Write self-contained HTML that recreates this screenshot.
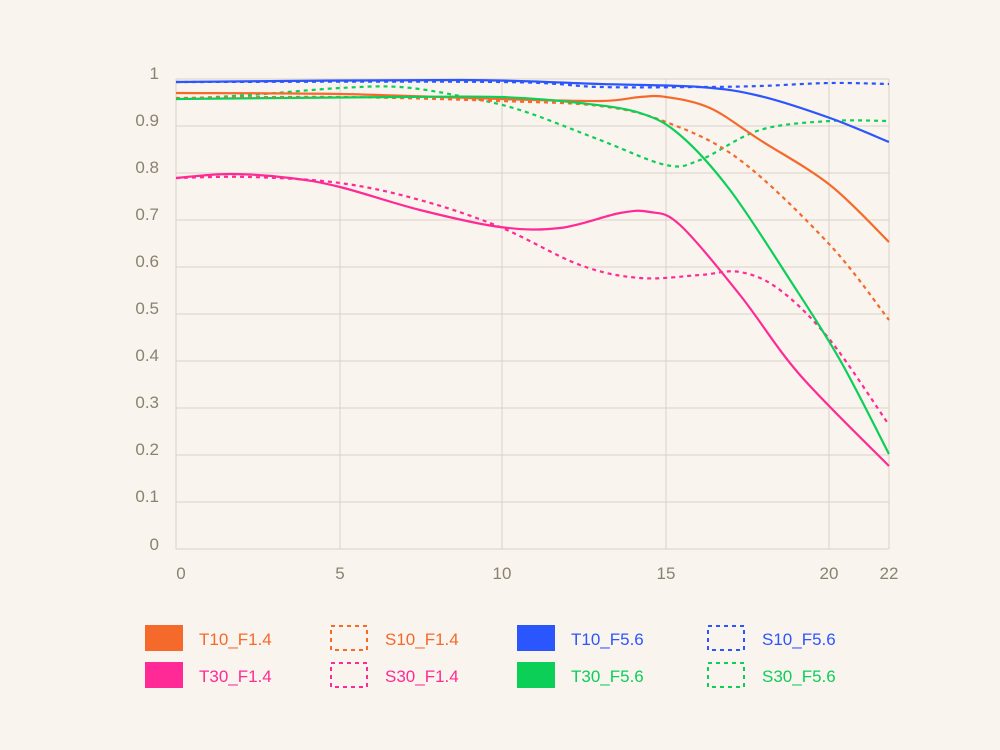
<!DOCTYPE html><html><head><style>
body{margin:0;background:#f9f4ee;}
svg{display:block;font-family:"Liberation Sans",sans-serif;}
</style></head><body>
<svg id="s" width="1000" height="750" xmlns="http://www.w3.org/2000/svg">
<rect width="1000" height="750" fill="#f9f4ee"/>
<g stroke="#d9d2c8" stroke-width="1">
<line x1="176" y1="79" x2="889" y2="79"/><line x1="176" y1="126" x2="889" y2="126"/><line x1="176" y1="173" x2="889" y2="173"/><line x1="176" y1="220" x2="889" y2="220"/><line x1="176" y1="267" x2="889" y2="267"/><line x1="176" y1="314" x2="889" y2="314"/><line x1="176" y1="361" x2="889" y2="361"/><line x1="176" y1="408" x2="889" y2="408"/><line x1="176" y1="455" x2="889" y2="455"/><line x1="176" y1="502" x2="889" y2="502"/><line x1="176" y1="549" x2="889" y2="549"/>
<line x1="176" y1="79" x2="176" y2="549"/><line x1="340" y1="79" x2="340" y2="549"/><line x1="502" y1="79" x2="502" y2="549"/><line x1="666" y1="79" x2="666" y2="549"/><line x1="829" y1="79" x2="829" y2="549"/><line x1="889" y1="79" x2="889" y2="549"/>
</g>
<g fill="#8a8270" font-size="17" text-anchor="end">
<text x="159" y="79">1</text><text x="159" y="126">0.9</text><text x="159" y="173">0.8</text><text x="159" y="220">0.7</text><text x="159" y="267">0.6</text><text x="159" y="314">0.5</text><text x="159" y="361">0.4</text><text x="159" y="408">0.3</text><text x="159" y="455">0.2</text><text x="159" y="502">0.1</text><text x="159" y="550">0</text>
</g>
<g fill="#8a8270" font-size="17" text-anchor="middle">
<text x="181" y="579">0</text><text x="340" y="579">5</text><text x="502" y="579">10</text><text x="666" y="579">15</text><text x="829" y="579">20</text><text x="889" y="579">22</text>
</g>
<g id="curves" fill="none" stroke-width="2.2"></g>
<g font-size="17">
<rect x="145" y="625" width="38" height="26" fill="#f5692a"/><text x="199" y="645" fill="#f5692a">T10_F1.4</text>
<rect x="331" y="626" width="36" height="24" fill="none" stroke="#f5692a" stroke-width="2" stroke-dasharray="4,4"/><text x="385" y="645" fill="#f5692a">S10_F1.4</text>
<rect x="517" y="625" width="38" height="26" fill="#2c56fd"/><text x="571" y="645" fill="#2c56fd">T10_F5.6</text>
<rect x="708" y="626" width="36" height="24" fill="none" stroke="#2c56fd" stroke-width="2" stroke-dasharray="4,4"/><text x="762" y="645" fill="#2c56fd">S10_F5.6</text>
<rect x="145" y="662" width="38" height="26" fill="#ff2a95"/><text x="199" y="682" fill="#ff2a95">T30_F1.4</text>
<rect x="331" y="663" width="36" height="24" fill="none" stroke="#ff2a95" stroke-width="2" stroke-dasharray="4,4"/><text x="385" y="682" fill="#ff2a95">S30_F1.4</text>
<rect x="517" y="662" width="38" height="26" fill="#0ccf58"/><text x="571" y="682" fill="#0ccf58">T30_F5.6</text>
<rect x="708" y="663" width="36" height="24" fill="none" stroke="#0ccf58" stroke-width="2" stroke-dasharray="4,4"/><text x="762" y="682" fill="#0ccf58">S30_F5.6</text>
</g>
</svg>
<script>
var C=[
["#2c56fd",0,[[176,82],[500,82],[600,87],[700,87],[760,86],[830,83],[889,84]]],
["#0ccf58",0,[[176,99],[250,95],[340,88],[400,87],[460,96],[520,110],[600,140],[666,165],[700,160],[760,130],[830,121],[889,121]]],
["#f5692a",0,[[176,98],[340,97],[500,101],[600,106],[666,122],[740,160],[830,245],[889,320]]],
["#ff2a95",0,[[176,178],[250,177],[340,183],[420,200],[500,227],[580,265],[640,278],[700,275],[740,272],[780,290],[830,340],[889,425]]],
["#2c56fd",1,[[176,82],[460,80],[600,84],[700,87],[760,96],[830,118],[889,142]]],
["#f5692a",1,[[176,93],[340,94],[500,99],[600,101],[640,97],[666,97],[710,108],[760,140],[830,185],[889,242]]],
["#0ccf58",1,[[176,99],[400,97],[500,97],[580,103],[640,113],[680,135],[730,190],[790,280],[840,360],[889,454]]],
["#ff2a95",1,[[176,178],[230,174],[290,178],[340,187],[420,210],[500,227],[560,228],[620,213],[650,212],[680,225],[740,295],[800,375],[889,466]]]
];
var g=document.getElementById('curves'),ns="http://www.w3.org/2000/svg";
C.forEach(function(c){var p=c[2],d="M"+p[0][0]+","+p[0][1];
for(var i=0;i<p.length-1;i++){var p0=p[i-1]||p[i],p1=p[i],p2=p[i+1],p3=p[i+2]||p2;
d+=" C"+(p1[0]+(p2[0]-p0[0])/6)+","+(p1[1]+(p2[1]-p0[1])/6)+" "+(p2[0]-(p3[0]-p1[0])/6)+","+(p2[1]-(p3[1]-p1[1])/6)+" "+p2[0]+","+p2[1];}
var e=document.createElementNS(ns,"path");e.setAttribute("d",d);e.setAttribute("stroke",c[0]);
if(!c[1])e.setAttribute("stroke-dasharray","4,4");g.appendChild(e);});
</script>
</body></html>
